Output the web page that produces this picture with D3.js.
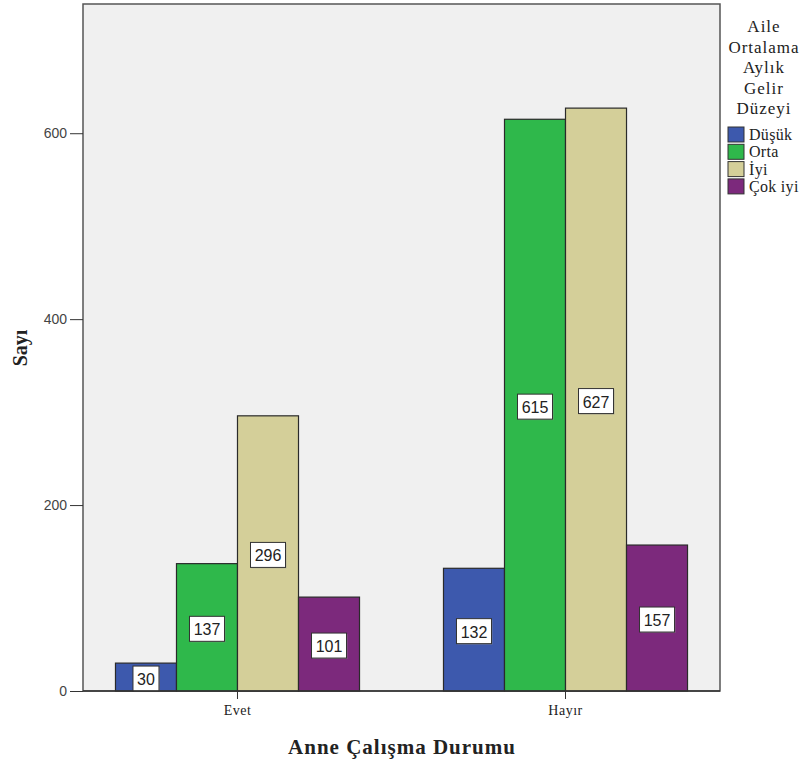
<!DOCTYPE html>
<html><head><meta charset="utf-8">
<script src="https://cdn.jsdelivr.net/npm/d3@7"></script>
<style>body{margin:0;background:#fff}svg{display:block}</style>
</head><body>
<script>
const categories = ["Evet", "Hayır"];
const seriesNames = ["Düşük", "Orta", "İyi", "Çok iyi"];
const seriesValues = [
  [30, 132],   // Düşük
  [137, 615],  // Orta
  [296, 627],  // İyi
  [101, 157]   // Çok iyi
];
const yTicks = [0, 200, 400, 600];
const colors = ["#3d59ad", "#2fb84b", "#d4cf99", "#7c297c"];
const legendTitle = ["Aile", "Ortalama", "Aylık", "Gelir", "Düzeyi"];

const W = 806, H = 765;
const plot = {left: 83, top: 4, right: 720, bottom: 691};
const svg = d3.select("body").append("svg").attr("width", W).attr("height", H);

const x = d3.scaleBand().domain(categories).range([plot.left, plot.right])
  .paddingInner(0.256).paddingOuter(0.099);
const xs = d3.scaleBand().domain(seriesNames).range([0, x.bandwidth()]);
const y = d3.scaleLinear().domain([0, 739]).range([plot.bottom, plot.top]);

svg.append("rect").attr("x", plot.left).attr("y", plot.top)
  .attr("width", plot.right - plot.left).attr("height", plot.bottom - plot.top)
  .attr("fill", "#f0f0f0").attr("stroke", "#555").attr("stroke-width", 1.5);

const data = [];
categories.forEach((c, ci) => seriesNames.forEach((s, si) =>
  data.push({c, s, si, v: seriesValues[si][ci]})));

svg.append("g").selectAll("rect").data(data).join("rect")
  .attr("x", d => x(d.c) + xs(d.s))
  .attr("y", d => y(d.v))
  .attr("width", xs.bandwidth())
  .attr("height", d => y(0) - y(d.v))
  .attr("fill", d => colors[d.si])
  .attr("stroke", "#2a2a2a").attr("stroke-width", 1.2);

// value labels
const lab = svg.append("g").selectAll("g").data(data).join("g")
  .attr("transform", d => `translate(${x(d.c) + xs(d.s) + xs.bandwidth()/2},${(y(d.v) + y(0))/2 + 2})`);
lab.each(function(d) {
  const g = d3.select(this);
  const t = String(d.v);
  const w = t.length * 9 + 8;
  g.append("rect").attr("x", -w/2 + 1).attr("y", -12).attr("width", w).attr("height", 25)
    .attr("fill", "#999").attr("opacity", 0.5);
  g.append("rect").attr("x", -w/2).attr("y", -13).attr("width", w).attr("height", 25)
    .attr("fill", "#fff").attr("stroke", "#333").attr("stroke-width", 1);
  g.append("text").attr("text-anchor", "middle").attr("y", 6)
    .attr("font-family", "Liberation Sans, Arial, sans-serif").attr("font-size", 16)
    .attr("fill", "#222").text(t);
});

// y axis
const ya = svg.append("g").attr("transform", `translate(${plot.left},0)`)
  .call(d3.axisLeft(y).tickValues(yTicks).tickSize(13).tickPadding(3));
ya.select(".domain").remove();
ya.selectAll("line").attr("stroke", "#333");
ya.selectAll("text").attr("font-family", "Liberation Sans, Arial, sans-serif")
  .attr("font-size", 14).attr("fill", "#444");

// x axis
const xa = svg.append("g").attr("transform", `translate(0,${plot.bottom})`)
  .call(d3.axisBottom(x).tickSize(8).tickPadding(6));
xa.select(".domain").attr("d", `M${plot.left},0H${plot.right}`).attr("stroke", "#333").attr("stroke-width", 1.5);
xa.selectAll("line").attr("stroke", "#333");
xa.selectAll("text").attr("font-family", "Liberation Serif, Times New Roman, serif")
  .attr("font-size", 14).attr("letter-spacing", 0.5).attr("fill", "#222");

// axis titles
svg.append("text").attr("x", 402).attr("y", 754).attr("text-anchor", "middle")
  .attr("font-family", "Liberation Serif, Times New Roman, serif").attr("font-weight", "bold")
  .attr("font-size", 21).attr("letter-spacing", 1).attr("fill", "#222").text("Anne Çalışma Durumu");
svg.append("text").attr("transform", "translate(27,348) rotate(-90)").attr("text-anchor", "middle")
  .attr("font-family", "Liberation Serif, Times New Roman, serif").attr("font-weight", "bold")
  .attr("font-size", 20).attr("fill", "#222").text("Sayı");

// legend
const lg = svg.append("g");
lg.selectAll("text.t").data(legendTitle).join("text").attr("class", "t")
  .attr("x", 764).attr("y", (d, i) => 32 + i * 20.5).attr("text-anchor", "middle")
  .attr("font-family", "Liberation Serif, Times New Roman, serif").attr("font-size", 17)
  .attr("letter-spacing", 1).attr("fill", "#222").text(d => d);
const li = lg.selectAll("g.i").data(seriesNames).join("g").attr("class", "i")
  .attr("transform", (d, i) => `translate(728,${127 + i * 17.3})`);
li.append("rect").attr("width", 16).attr("height", 15)
  .attr("fill", (d, i) => colors[i]).attr("stroke", "#333").attr("stroke-width", 1);
li.append("text").attr("x", 21).attr("y", 13)
  .attr("font-family", "Liberation Serif, Times New Roman, serif").attr("font-size", 16)
  .attr("letter-spacing", 0.3).attr("fill", "#222").text(d => d);
</script>
</body></html>
